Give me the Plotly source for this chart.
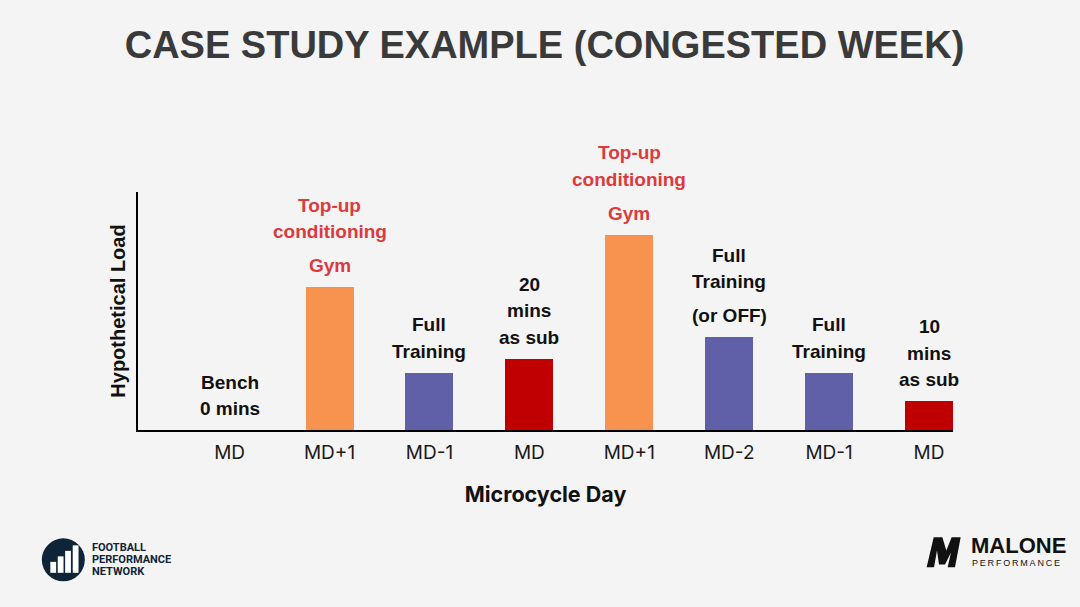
import plotly.graph_objects as go

# --- data ---
days = ["MD", "MD+1", "MD-1", "MD", "MD+1", "MD-2", "MD-1", "MD"]
load = [0.0, 6.0, 2.4, 3.0, 8.2, 3.9, 2.4, 1.2]
bar_colors = ["#C00000", "#F7934E", "#5F60A8", "#C00000",
              "#F7934E", "#5F60A8", "#5F60A8", "#C00000"]
# label groups drawn above each bar, bottom group first
labels = [
    [(["Bench", "0 mins"], "black")],
    [(["Gym"], "red"), (["Top-up", "conditioning"], "red")],
    [(["Full", "Training"], "black")],
    [(["20", "mins", "as sub"], "black")],
    [(["Gym"], "red"), (["Top-up", "conditioning"], "red")],
    [(["(or OFF)"], "black"), (["Full", "Training"], "black")],
    [(["Full", "Training"], "black")],
    [(["10", "mins", "as sub"], "black")],
]
text_colors = {"black": "#111111", "red": "#DC3A3C"}

BG = "#F4F4F4"
W, H = 1080, 607
L, R, T, B = 137.7, 953.0, 191.7, 430.0


def px(x):
    return (x - L) / (R - L)


def py(y):
    return (B - y) / (B - T)


fig = go.Figure()
fig.add_trace(go.Bar(
    x=list(range(len(days))),
    y=load,
    width=0.48,
    marker=dict(color=bar_colors, line=dict(width=0)),
    hoverinfo="skip",
    showlegend=False,
))

# labels above bars
for i, groups in enumerate(labels):
    shift = 21.5
    for g, (lines, col) in enumerate(groups):
        if g > 0:
            shift += 34
        for j, line in enumerate(reversed(lines)):
            if j > 0:
                shift += 26.5
            fig.add_annotation(
                x=i, y=load[i], xref="x", yref="y",
                text=line, showarrow=False,
                yanchor="middle", yshift=shift,
                font=dict(family="Liberation Sans, Arial", size=19,
                          color=text_colors[col], weight="bold"),
            )

# football performance network logo
fig.add_shape(type="circle", xref="paper", yref="paper",
              x0=px(41.5), x1=px(84.5), y0=py(581.5), y1=py(538.5),
              fillcolor="#0F2437", line=dict(width=0), layer="above")
for bx, top in [(50, 562), (57.4, 556.5), (64.8, 551), (72.4, 545.5)]:
    fig.add_shape(type="rect", xref="paper", yref="paper",
                  x0=px(bx), x1=px(bx + 5.8), y0=py(573), y1=py(top),
                  fillcolor="white", line=dict(width=0), layer="above")
for k, word in enumerate(["FOOTBALL", "PERFORMANCE", "NETWORK"]):
    fig.add_annotation(
        x=px(90), y=py(547.5 + k * 12.3), xref="paper", yref="paper",
        text=word, showarrow=False, xanchor="left", yanchor="middle",
        font=dict(family="Roboto", size=11, color="#0F2437", weight="bold"),
    )

# malone performance logo
m_pts = [(35, 112), (56, 22), (82, 22), (94, 62), (110, 22), (137, 22),
         (120, 112), (98, 112), (108, 68), (90, 104), (72, 104), (66, 62),
         (57, 112)]
path = "M " + " L ".join(
    f"{px(915 + zx / 3):.5f},{py(530 + zy / 3):.5f}" for zx, zy in m_pts) + " Z"
fig.add_shape(type="path", xref="paper", yref="paper", path=path,
              fillcolor="#111111", line=dict(width=0), layer="above")
fig.add_annotation(
    x=px(969), y=py(545.5), xref="paper", yref="paper",
    text="MALONE", showarrow=False, xanchor="left", yanchor="middle",
    font=dict(family="Liberation Sans, Arial", size=22, color="#111111",
              weight="bold"),
)
fig.add_annotation(
    x=px(970), y=py(563), xref="paper", yref="paper",
    text="\u2009".join("PERFORMANCE"), showarrow=False,
    xanchor="left", yanchor="middle",
    font=dict(family="Liberation Sans, Arial", size=9, color="#111111"),
)

fig.update_layout(
    width=W, height=H,
    paper_bgcolor=BG, plot_bgcolor=BG,
    margin=dict(l=L, r=W - R, t=T, b=H - B),
    title=dict(
        text="CASE STUDY EXAMPLE (CONGESTED WEEK)",
        x=544.5 / W, xanchor="center", xref="container",
        y=1 - 45 / H, yanchor="middle", yref="container",
        font=dict(family="Liberation Sans, Arial", size=38, color="#3A3A3A",
                  weight="bold"),
    ),
    bargap=0,
)
fig.update_xaxes(
    range=[-0.917, 7.24],
    tickvals=list(range(len(days))), ticktext=days,
    showline=True, linecolor="black", linewidth=2,
    ticks="", showgrid=False, zeroline=False,
    ticklabelstandoff=4,
    tickfont=dict(family="Inter", size=19, color="#1A1A1A"),
    title=dict(text="Microcycle Day", standoff=24,
               font=dict(family="Inter", size=21.5, color="#111111",
                         weight="bold")),
    fixedrange=True,
)
fig.update_yaxes(
    range=[0, 10],
    showline=True, linecolor="black", linewidth=2,
    ticks="", showticklabels=False, showgrid=False, zeroline=False,
    title=dict(text="Hypothetical Load", standoff=5,
               font=dict(family="Liberation Sans, Arial", size=20,
                         color="#111111", weight="bold")),
    fixedrange=True,
)

fig.write_html(
    "out.html",
    config={"displayModeBar": False},
    post_script="document.body.style.margin='0';"
                "document.body.style.background='" + BG + "';",
)
